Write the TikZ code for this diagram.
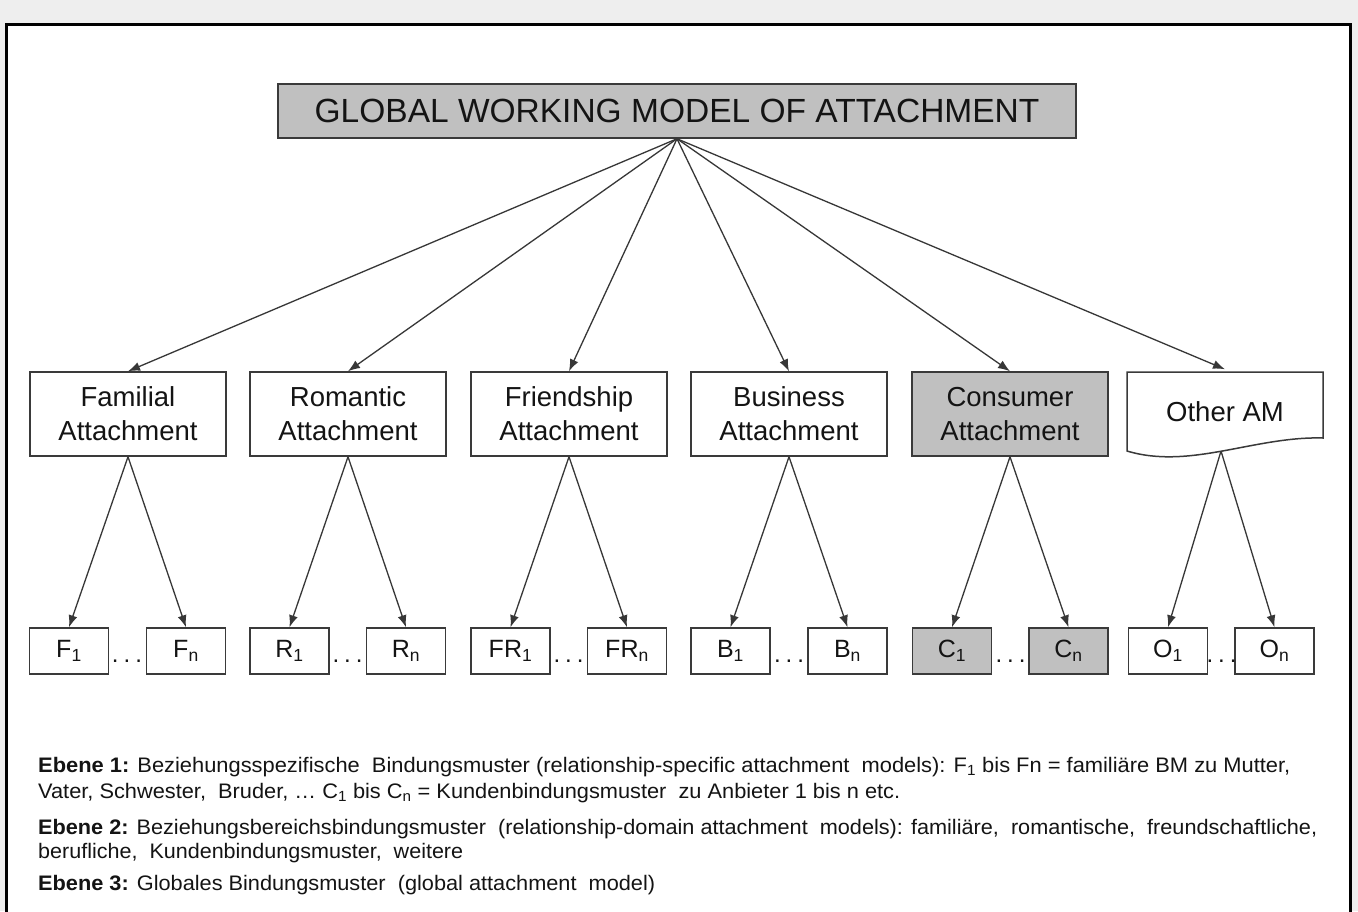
\documentclass[tikz,border=0pt]{standalone}
\usepackage{fontspec}
\setmainfont{Liberation Sans}
\usetikzlibrary{arrows.meta}
\definecolor{bg}{HTML}{EEEEEE}
\definecolor{boxgray}{HTML}{C0C0C0}
\definecolor{edge}{HTML}{3A3A3A}
\definecolor{ink}{HTML}{141414}
\begin{document}
\begin{tikzpicture}[x=1pt,y=-1pt,
  box/.style={draw=edge, line width=1.5pt, fill=white, inner sep=0pt, text=ink, align=center},
  midbox/.style={box, minimum width=196pt, minimum height=84pt, font=\fontsize{27.5}{34}\selectfont},
  leaf/.style={box, minimum width=79pt, minimum height=46pt, font=\fontsize{25}{28}\selectfont},
  shaded/.style={fill=boxgray},
  conn/.style={draw=ink!85, line width=1.3pt, -{Latex[length=12pt,width=9pt]}},
  dotsnode/.style={anchor=base, text=ink, font=\fontsize{24}{26}\selectfont, inner sep=0pt},
  capline/.style={anchor=base west, inner sep=0pt, text=ink, font=\fontsize{21}{24}\selectfont}
]
\useasboundingbox (0,0) rectangle (1358,911);
\fill[bg] (0,0) rectangle (1358,911);
\begin{scope}
\clip (0,0) rectangle (1358,911);
\draw[line width=3pt, fill=white] (6.5,24.5) rectangle (1350.5,930);
\end{scope}

% level 3
\node[box, shaded, minimum width=798pt, minimum height=54pt, font=\fontsize{33.5}{38}\selectfont] (g) at (677,111) {GLOBAL WORKING MODEL OF ATTACHMENT};

% level 2
\node[midbox] (fam) at (128,414) {Familial\\Attachment};
\node[midbox] (rom) at (348,414) {Romantic\\Attachment};
\node[midbox] (fri) at (569,414) {Friendship\\Attachment};
\node[midbox] (bus) at (789,414) {Business\\Attachment};
\node[midbox, shaded] (con) at (1010,414) {Consumer\\Attachment};
\draw[draw=edge, line width=1.5pt, fill=white] (1127,372) -- (1323,372) -- (1323,438) .. controls (1255,436) and (1190,470) .. (1127,451) -- cycle;
\node[midbox, draw=none, fill=none] (oth) at (1225,412) {Other AM};
\coordinate (othb) at (1221,451);

% level 1
\node[leaf] (f1) at (69,651) {F\textsubscript{1}};
\node[leaf] (fn) at (186,651) {F\textsubscript{n}};
\node[leaf] (r1) at (289.5,651) {R\textsubscript{1}};
\node[leaf] (rn) at (406,651) {R\textsubscript{n}};
\node[leaf] (fr1) at (510.5,651) {FR\textsubscript{1}};
\node[leaf] (frn) at (627,651) {FR\textsubscript{n}};
\node[leaf] (b1) at (730.5,651) {B\textsubscript{1}};
\node[leaf] (bn) at (847.5,651) {B\textsubscript{n}};
\node[leaf, shaded] (c1) at (952,651) {C\textsubscript{1}};
\node[leaf, shaded] (cn) at (1068.5,651) {C\textsubscript{n}};
\node[leaf] (o1) at (1168,651) {O\textsubscript{1}};
\node[leaf] (on) at (1274.5,651) {O\textsubscript{n}};

\node[dotsnode] (df) at (127,662) {.\hspace{5pt}.\hspace{5pt}.};
\node[dotsnode] (dr) at (347.5,662) {.\hspace{5pt}.\hspace{5pt}.};
\node[dotsnode] (dfr) at (568.5,662) {.\hspace{5pt}.\hspace{5pt}.};
\node[dotsnode] (db) at (789,662) {.\hspace{5pt}.\hspace{5pt}.};
\node[dotsnode] (dc) at (1010.5,662) {.\hspace{5pt}.\hspace{5pt}.};
\node[dotsnode] (do) at (1221.5,662) {.\hspace{5pt}.\hspace{5pt}.};

% connectors
\foreach \t in {fam,rom,fri,bus,con,oth} \draw[conn] (g.south) -- (\t.north);
\draw[conn] (fam.south) -- (f1.north);
\draw[conn] (fam.south) -- (fn.north);
\draw[conn] (rom.south) -- (r1.north);
\draw[conn] (rom.south) -- (rn.north);
\draw[conn] (fri.south) -- (fr1.north);
\draw[conn] (fri.south) -- (frn.north);
\draw[conn] (bus.south) -- (b1.north);
\draw[conn] (bus.south) -- (bn.north);
\draw[conn] (con.south) -- (c1.north);
\draw[conn] (con.south) -- (cn.north);
\draw[conn] (othb) -- (o1.north);
\draw[conn] (othb) -- (on.north);

% caption
\node[capline] (e1) at (38,772) {\resizebox{1252pt}{\height}{\textbf{Ebene 1:} Beziehungsspezifische\ \ Bindungsmuster (relationship-specific attachment\ \ models): F\textsubscript{1} bis Fn = familiäre BM zu Mutter,}};
\node[capline] (e1b) at (38,798) {\resizebox{862pt}{\height}{Vater, Schwester,\ \ Bruder, … C\textsubscript{1} bis C\textsubscript{n} = Kundenbindungsmuster\ \ zu Anbieter 1 bis n etc.}};
\node[capline] (e2) at (38,834) {\resizebox{1279pt}{\height}{\textbf{Ebene 2:} Beziehungsbereichsbindungsmuster\ \ (relationship-domain attachment\ \ models): familiäre,\ \ romantische,\ \ freundschaftliche,}};
\node[capline] (e2b) at (38,858) {\resizebox{425pt}{\height}{berufliche,\ \ Kundenbindungsmuster,\ \ weitere}};
\node[capline] (e3) at (38,890) {\resizebox{617pt}{\height}{\textbf{Ebene 3:} Globales Bindungsmuster\ \ (global attachment\ \ model)}};
\end{tikzpicture}
\end{document}
